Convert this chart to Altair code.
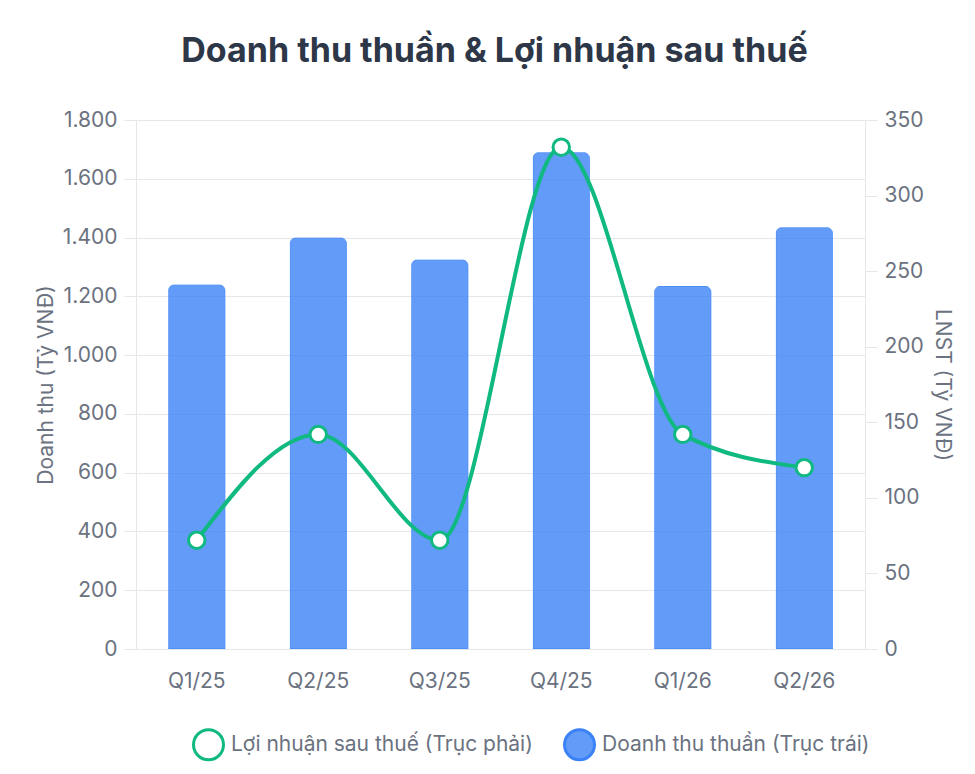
import altair as alt
import pandas as pd

quarters = ["Q1/25", "Q2/25", "Q3/25", "Q4/25", "Q1/26", "Q2/26"]
revenue = [1240, 1400, 1325, 1690, 1235, 1435]
profit = [72, 142, 72, 332, 142, 120]
s_profit = "Lợi nhuận sau thuế (Trục phải)"
s_rev = "Doanh thu thuần (Trục trái)"
left_ticks = [0, 200, 400, 600, 800, 1000, 1200, 1400, 1600, 1800]
right_ticks = [0, 50, 100, 150, 200, 250, 300, 350]

df_rev = pd.DataFrame({"q": quarters, "v": revenue, "s": s_rev})
df_pro = pd.DataFrame({"q": quarters, "v": profit, "s": s_profit})

GRID = "#e5e7eb"
LABEL = "#6b7280"
GREEN = "#10b981"
BLUE = "#3b82f6"
BLUE_FILL = "rgba(59,130,246,0.8)"
FS = 21

domain = [s_profit, s_rev]
fill_scale = alt.Scale(domain=domain, range=["#ffffff", BLUE_FILL])
stroke_scale = alt.Scale(domain=domain, range=[GREEN, BLUE])
legend = alt.Legend(title=None, orient="none", direction="horizontal",
                    legendX=56, legendY=608,
                    symbolType="circle", symbolSize=900, symbolStrokeWidth=3,
                    labelFontSize=FS, labelColor=LABEL, labelLimit=0,
                    columnPadding=25, labelOffset=6)

x = alt.X("q:N", sort=quarters, title=None,
          scale=alt.Scale(paddingInner=0, paddingOuter=0),
          axis=alt.Axis(labelAngle=0, ticks=False, domainColor=GRID, grid=False,
                        labelFontSize=FS, labelColor=LABEL, labelPadding=21))

bars = alt.Chart(df_rev).mark_bar(
    cornerRadiusTopLeft=6, cornerRadiusTopRight=6, strokeWidth=1,
    width=alt.RelativeBandSize(0.47)
).encode(
    x=x,
    y=alt.Y("v:Q", title="Doanh thu (Tỷ VNĐ)",
            scale=alt.Scale(domain=[0, 1800], nice=False),
            axis=alt.Axis(values=left_ticks, grid=True, gridColor=GRID,
                          domainColor=GRID, tickColor=GRID, tickSize=12,
                          labelFontSize=FS, labelColor=LABEL, labelPadding=7,
                          labelExpr="replace(format(datum.value, ','), ',', '.')",
                          titleFontSize=FS, titleColor=LABEL, titleFontWeight="normal",
                          titlePadding=6)),
    fill=alt.Fill("s:N", scale=fill_scale, legend=legend),
    stroke=alt.Stroke("s:N", scale=stroke_scale, legend=legend),
)

y_right = alt.Y("v:Q", title="LNST (Tỷ VNĐ)",
                scale=alt.Scale(domain=[0, 350], nice=False),
                axis=alt.Axis(orient="right", values=right_ticks, grid=False,
                              domainColor=GRID, tickColor=GRID, tickSize=12,
                              labelFontSize=FS, labelColor=LABEL, labelPadding=7,
                              titleFontSize=FS, titleColor=LABEL, titleFontWeight="normal",
                              titleAngle=90, titlePadding=8))

line = alt.Chart(df_pro).mark_line(strokeWidth=4, interpolate="monotone").encode(
    x=x, y=y_right,
    stroke=alt.Stroke("s:N", scale=stroke_scale, legend=legend),
)
points = alt.Chart(df_pro).mark_point(filled=True, size=270, strokeWidth=3, opacity=1).encode(
    x=x, y=y_right,
    fill=alt.Fill("s:N", scale=fill_scale, legend=legend),
    stroke=alt.Stroke("s:N", scale=stroke_scale, legend=legend),
)

right = alt.layer(line, points)

chart = alt.layer(bars, right).resolve_scale(y="independent").properties(
    width=729, height=529,
    title=alt.TitleParams("Doanh thu thuần & Lợi nhuận sau thuế", fontSize=34,
                          fontWeight="bold", color="#2d3748", anchor="middle",
                          offset=40, dx=-6),
    padding={"left": 27, "top": 27, "right": 5, "bottom": 5},
    background="white",
).configure(font="Inter").configure_view(stroke=None)

chart.save("out.html", embed_options={"renderer": "svg", "actions": False})
